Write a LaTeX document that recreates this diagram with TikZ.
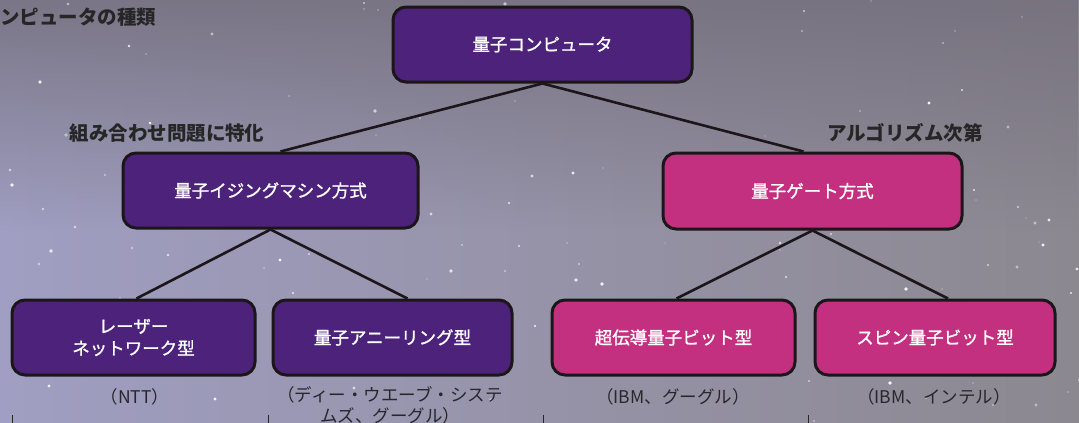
\documentclass[tikz,border=0pt]{standalone}
\usepackage{fontspec}
\newfontfamily\jp{Noto Sans CJK JP}
\newfontfamily\jpm{Noto Sans CJK JP}[FakeBold=1.3]
\usetikzlibrary{calc,fadings}
\definecolor{bgL}{RGB}{160,158,194}
\definecolor{bgR}{RGB}{140,136,144}
\definecolor{bgT}{RGB}{116,111,124}
\definecolor{boxP}{RGB}{76,34,122}
\definecolor{boxM}{RGB}{196,48,128}
\definecolor{edge}{RGB}{28,22,26}
\definecolor{sub}{RGB}{40,38,44}
\tikzset{
  box/.style={draw=edge, line width=3pt, rounded corners=13pt, text=white,
    font=\jpm\fontsize{17.5}{22}\selectfont, align=center, inner sep=0pt},
  pbox/.style={box, fill=boxP},
  mbox/.style={box, fill=boxM},
  conn/.style={draw=edge, line width=2.6pt},
  lab/.style={font=\jp\bfseries\fontsize{19.5}{23}\selectfont, text=black!85, inner sep=0pt},
  sublab/.style={font=\jp\fontsize{17.5}{21}\selectfont, text=sub, inner sep=0pt, align=center},
  tick/.style={draw=sub, line width=0.8pt}
}
\begin{document}
\begin{tikzpicture}[x=1pt,y=-1pt]
\useasboundingbox (0,0) rectangle (1079,423);
% background
\shade[left color=bgL, right color=bgR] (0,0) rectangle (1079,423);
\fill[bgT, path fading=south, opacity=0.85] (0,0) rectangle (1079,230);
% stars
\pgfmathsetseed{7}
\foreach \i in {1,...,140}{
  \pgfmathsetmacro{\sx}{random(0,1079)}
  \pgfmathsetmacro{\sy}{random(0,423)}
  \pgfmathsetmacro{\sr}{0.6+1.4*rnd}
  \pgfmathsetmacro{\so}{0.35+0.6*rnd}
  \fill[white, opacity=\so] (\sx,\sy) circle (\sr pt);
}
% title
\node[lab, anchor=west] (title) at (0,17) {ンピュータの種類};
% boxes
\node[pbox, minimum width=299pt, minimum height=75pt] (top) at (542.5,44.5) {量子コンピュータ};
\node[pbox, minimum width=295pt, minimum height=75pt] (ising) at (270.5,190.5) {量子イジングマシン方式};
\node[mbox, minimum width=299pt, minimum height=76pt] (gate) at (812.5,191) {量子ゲート方式};
\node[pbox, minimum width=243pt, minimum height=75pt] (laser) at (133.5,337.5) {レーザー\\ネットワーク型};
\node[pbox, minimum width=239pt, minimum height=75pt] (ann) at (392.5,337.5) {量子アニーリング型};
\node[mbox, minimum width=243pt, minimum height=75pt] (sc) at (673.5,337.5) {超伝導量子ビット型};
\node[mbox, minimum width=240pt, minimum height=75pt] (spin) at (935,337.5) {スピン量子ビット型};
% connectors
\draw[conn] (top.south) -- ($(ising.north)+(10pt,0)$);
\draw[conn] (top.south) -- ($(gate.north)+(-9pt,0)$);
\draw[conn] (ising.south) -- ($(laser.north)+(3pt,0)$);
\draw[conn] (ising.south) -- ($(ann.north)+(15pt,0)$);
\draw[conn] (gate.south) -- ($(sc.north)+(3pt,0)$);
\draw[conn] (gate.south) -- ($(spin.north)+(13pt,0)$);
% side labels
\node[lab] (l1) at (167,133) {組み合わせ問題に特化};
\node[lab] (l2) at (905,133) {アルゴリズム次第};
% sub labels
\node[sublab] (s1) at (135,397) {（NTT）};
\node[sublab, anchor=north] (s2) at (390,386) {（ディー・ウエーブ・システ\\ムズ、グーグル）};
\node[sublab] (s3) at (673,397) {（IBM、グーグル）};
\node[sublab] (s4) at (934,397) {（IBM、インテル）};
% table ticks
\draw[tick] (12,415) -- (12,423);
\draw[tick] (268,415) -- (268,423);
\draw[tick] (543,415) -- (543,423);
\draw[tick] (808,415) -- (808,423);
\end{tikzpicture}
\end{document}
